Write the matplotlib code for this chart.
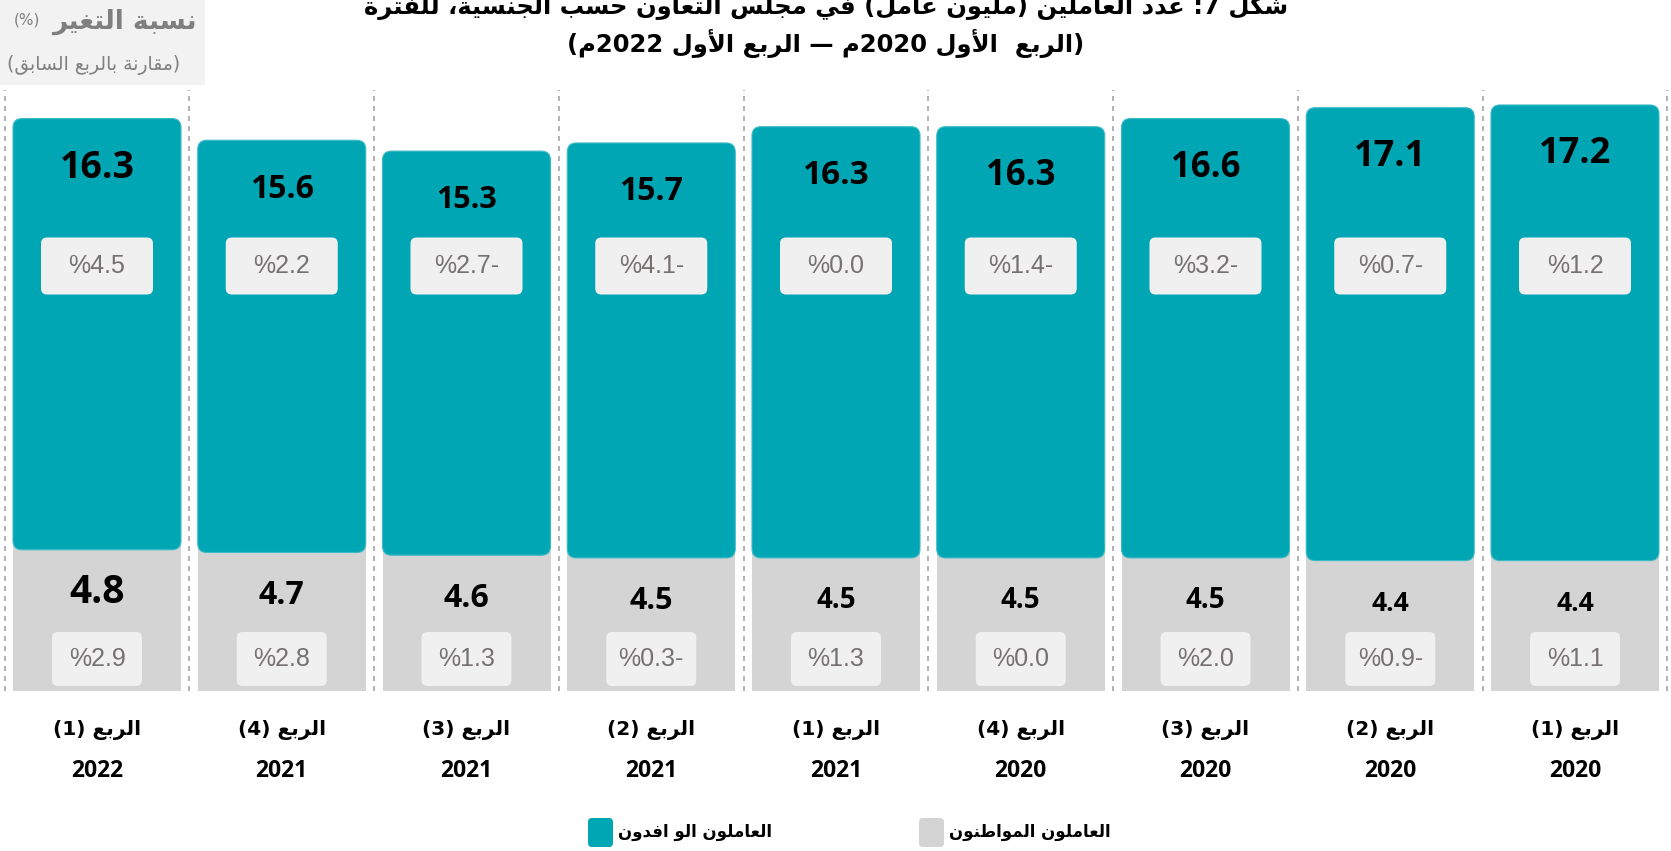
import re
import matplotlib
matplotlib.use("Agg")
import matplotlib.pyplot as plt
from matplotlib.patches import FancyBboxPatch, Rectangle

# data, left to right as in the picture
quarters = ['الربع (1)', 'الربع (4)', 'الربع (3)', 'الربع (2)', 'الربع (1)',
            'الربع (4)', 'الربع (3)', 'الربع (2)', 'الربع (1)']
years = ['2022', '2021', '2021', '2021', '2021', '2020', '2020', '2020', '2020']
expats = [16.3, 15.6, 15.3, 15.7, 16.3, 16.3, 16.6, 17.1, 17.2]
citizens = [4.8, 4.7, 4.6, 4.5, 4.5, 4.5, 4.5, 4.4, 4.4]
expat_change = [4.5, 2.2, -2.7, -4.1, 0.0, -1.4, -3.2, -0.7, 1.2]
citizen_change = [2.9, 2.8, 1.3, -0.3, 1.3, 0.0, 2.0, -0.9, 1.1]

title_1 = 'شكل 7: عدد العاملين (مليون عامل) في مجلس التعاون حسب الجنسية، للفترة'
title_2 = '(الربع  الأول 2020م — الربع الأول 2022م)'
header_1 = 'نسبة التغير'
header_2 = '(مقارنة بالربع السابق)'
legend_expats = 'العاملون الو افدون'
legend_citizens = 'العاملون المواطنون'

TEAL = '#00A6B4'
GREY = '#D4D4D4'
BOX = '#F0F0F0'
PCT_COL = '#767171'

# font sizes of the value labels differ from bar to bar in the original
expat_fs = [27, 23, 22, 23, 24, 25, 25, 26, 26]
citizen_fs = [28, 23, 23, 22, 20, 20, 20, 19, 19]

# --- minimal arabic shaping (matplotlib has no text shaping) ---
DUAL = dict(zip('ئبتثجحخسشصضطظعغفقكلمنهي',
                [0xFE89, 0xFE8F, 0xFE95, 0xFE99, 0xFE9D, 0xFEA1, 0xFEA5, 0xFEB1,
                 0xFEB5, 0xFEB9, 0xFEBD, 0xFEC1, 0xFEC5, 0xFEC9, 0xFECD, 0xFED1,
                 0xFED5, 0xFED9, 0xFEDD, 0xFEE1, 0xFEE5, 0xFEE9, 0xFEF1]))
RIGHT = dict(zip('آأؤإاةدذرزوى',
                 [0xFE81, 0xFE83, 0xFE85, 0xFE87, 0xFE8D, 0xFE93, 0xFEA9, 0xFEAB,
                  0xFEAD, 0xFEAF, 0xFEED, 0xFEEF]))
LAM_ALEF = dict(zip('آأإا', [0xFEF5, 0xFEF7, 0xFEF9, 0xFEFB]))


def shape(s):
    out = []
    i = 0
    while i < len(s):
        c = s[i]
        joins_prev = i > 0 and s[i - 1] in DUAL
        nxt = s[i + 1] if i + 1 < len(s) else ''
        if c == 'ل' and nxt in LAM_ALEF:
            out.append(chr(LAM_ALEF[nxt] + joins_prev))
            i += 2
            continue
        if c in DUAL:
            joins_next = nxt in DUAL or nxt in RIGHT
            out.append(chr(DUAL[c] + [0, 2, 1, 3][joins_prev * 2 + joins_next]))
        elif c in RIGHT:
            out.append(chr(RIGHT[c] + joins_prev))
        elif c == 'ء':
            out.append(chr(0xFE80))
        else:
            out.append(c)
        i += 1
    return ''.join(out)


def rtl(s):  # right-to-left line
    s = shape(s)[::-1]
    s = re.sub(r'[0-9A-Za-z.%]+', lambda m: m.group(0)[::-1], s)
    return ''.join({'(': ')', ')': '('}.get(c, c) for c in s)


def pct(v):
    return '%' + f'{abs(v):.1f}' + ('-' if v < 0 else '')


W, H = 1671, 851
fig = plt.figure(figsize=(W / 100, H / 100), dpi=100)
ax = fig.add_axes([0, 0, 1, 1])
ax.axis('off')

px_x = 184.75  # pixels per category
px_y = 27.13   # pixels per million
base = 691     # pixel row of zero
ax.set_xlim(-97 / px_x, (W - 97) / px_x)
ax.set_ylim(-(H - base) / px_y, base / px_y)
aspect = px_x / px_y

bw = 168 / px_x
gap = 11 / px_y
xs = range(len(expats))

# separators
for k in range(len(expats) + 1):
    ax.plot([k - 0.5, k - 0.5], [0, (base - 90) / px_y], color='#A6A6A6',
            lw=1.2, ls=(0, (3, 3)), zorder=0)

ax.bar(xs, [c + gap + 0.6 for c in citizens], width=bw, color=GREY, zorder=1)

for i in xs:
    g, t = citizens[i], expats[i]
    ax.add_patch(FancyBboxPatch((i - bw / 2, g + gap), bw, t - gap,
                                boxstyle='round,pad=0,rounding_size=%f' % (9 / px_x),
                                mutation_aspect=aspect, fc=TEAL, ec='#3CBAC6',
                                lw=0.8, zorder=2))
    ax.text(i, g + t - 49 / px_y, f'{t:.1f}', ha='center', va='center',
            fontsize=expat_fs[i], fontweight='bold', family='Open Sans', zorder=4)
    # change boxes
    bx, by = 112 / px_x, 57 / px_y
    yc = (base - 266) / px_y
    ax.add_patch(FancyBboxPatch((i - bx / 2, yc - by / 2), bx, by,
                                boxstyle='round,pad=0,rounding_size=%f' % (6 / px_x),
                                mutation_aspect=aspect, fc=BOX, ec='none', zorder=3))
    ax.text(i, yc, pct(expat_change[i]), ha='center', va='center', fontsize=18,
            color=PCT_COL, family='Liberation Sans', zorder=4)

    ax.text(i, g - 32 / px_y, f'{g:.1f}', ha='center', va='center',
            fontsize=citizen_fs[i], fontweight='bold', family='Open Sans', zorder=4)
    bx, by = 90 / px_x, 54 / px_y
    yc = (base - 659) / px_y
    ax.add_patch(FancyBboxPatch((i - bx / 2, yc - by / 2), bx, by,
                                boxstyle='round,pad=0,rounding_size=%f' % (6 / px_x),
                                mutation_aspect=aspect, fc=BOX, ec='none', zorder=3))
    ax.text(i, yc, pct(citizen_change[i]), ha='center', va='center', fontsize=18,
            color=PCT_COL, family='Liberation Sans', zorder=4)

    # category labels
    ax.text(i, -(730 - base) / px_y, rtl(quarters[i]), ha='center', va='center',
            fontsize=14.5, fontweight='bold', family='DejaVu Sans')
    ax.text(i, -(771 - base) / px_y, years[i], ha='center', va='center',
            fontsize=16.5, fontweight='bold', family='Open Sans')


def fx(x):
    return x / W


def fy(y):
    return 1 - y / H


# title (top line is cut off in the original)
fig.text(fx(826), fy(8), rtl(title_1), ha='center', va='center',
         fontsize=17.5, fontweight='bold', family='DejaVu Sans')
fig.text(fx(826), fy(43), rtl(title_2), ha='center', va='center',
         fontsize=17.5, fontweight='bold', family='DejaVu Sans')

# header box top left
fig.add_artist(Rectangle((0, fy(85)), fx(205), 85 / H, transform=fig.transFigure,
                         fc='#F2F2F2', ec='none', zorder=0))
fig.text(fx(197), fy(22), rtl(header_1), ha='right', va='center', fontsize=19,
         fontweight='bold', color='#7F7F7F', family='DejaVu Sans')
fig.text(fx(27), fy(20), '(%)', ha='center', va='center', fontsize=11,
         color='#7F7F7F', family='DejaVu Sans')
fig.text(fx(94), fy(65), rtl(header_2), ha='center', va='center', fontsize=13.5,
         color='#7F7F7F', family='DejaVu Sans')

# legend
for x0, col, lab in [(588, TEAL, legend_expats), (919, GREY, legend_citizens)]:
    fig.add_artist(FancyBboxPatch((x0, H - 847), 25, 29,
                                  boxstyle='round,pad=0,rounding_size=4',
                                  transform=None, fc=col, ec='none'))
    fig.text(fx(x0 + 30), fy(832), rtl(lab), ha='left', va='center', fontsize=12,
             fontweight='bold', family='DejaVu Sans')

fig.savefig('out.png', dpi=100)
